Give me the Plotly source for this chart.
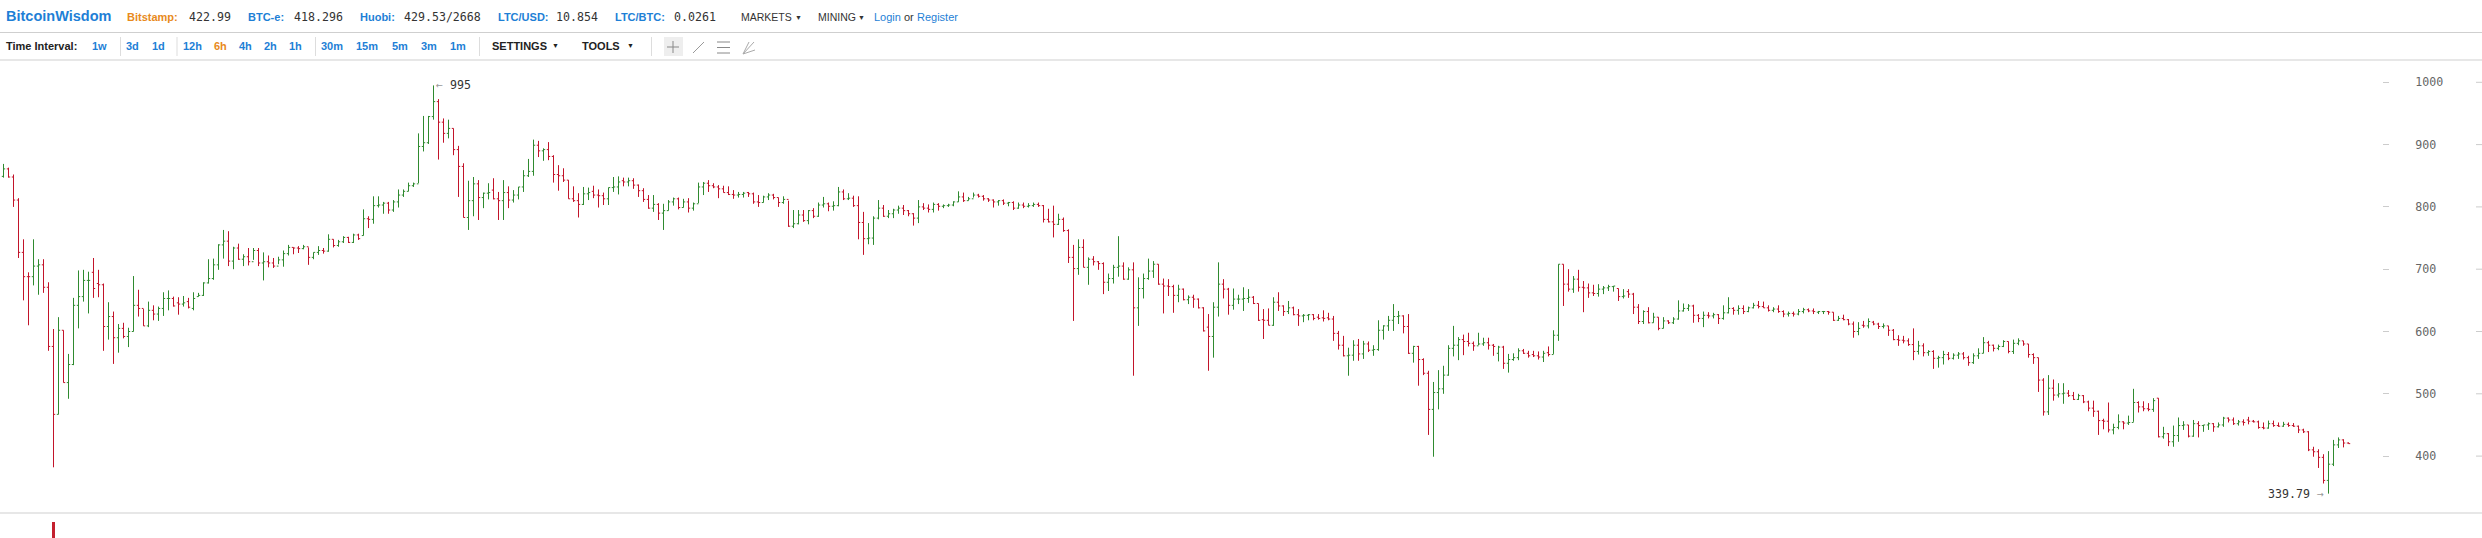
import plotly.graph_objects as go

opens = [
849,861,848,811,727,688,688,705,707,671,
576,467,602,518,547,642,656,682,695,677,
675,608,624,590,605,592,600,642,637,609,
634,628,637,653,653,646,644,648,637,656,
658,678,685,707,739,745,713,734,716,720,
712,730,710,712,710,705,715,725,735,734,
733,736,719,727,730,729,748,738,744,751,
743,755,754,781,780,802,803,806,795,808,
819,825,834,837,897,903,945,969,936,918,
926,892,865,783,810,837,815,822,827,813,
810,823,811,819,832,850,857,899,890,892,
881,852,850,843,813,810,804,821,825,819,
818,813,831,832,842,840,842,835,826,812,
798,804,790,794,808,813,799,808,798,805,
832,838,834,832,829,823,820,819,820,823,
821,808,807,816,819,815,807,812,769,773,
787,778,794,785,803,805,801,802,824,813,
814,802,775,749,750,782,798,785,789,795,
798,794,789,782,800,798,796,804,801,802,
803,808,816,810,813,819,817,813,811,808,
810,806,807,798,803,801,802,804,802,780,
776,772,780,762,719,701,735,703,716,712,
709,679,685,703,705,684,699,638,669,685,
697,708,676,673,672,658,668,651,655,652,
638,607,592,639,676,668,642,652,652,653,
655,645,619,618,610,647,641,632,638,627,
625,626,627,623,622,622,620,597,578,561,
562,578,564,580,570,571,602,609,618,624,
625,608,565,576,555,533,475,502,508,530,
573,578,587,584,581,577,580,582,578,565,
575,549,555,558,569,565,563,561,559,566,
563,594,708,676,668,684,671,670,662,661,
668,670,672,669,656,664,660,639,616,632,
614,623,605,617,614,620,633,637,641,626,
621,626,625,627,621,630,637,634,637,632,
638,642,640,638,634,636,632,628,629,628,
632,635,633,631,632,632,631,618,621,619,
612,600,610,609,615,612,608,609,602,587,
586,585,579,568,577,566,568,557,558,563,
557,562,564,558,550,561,565,582,578,573,
576,584,568,581,585,580,563,558,522,471,
509,498,500,501,497,491,497,487,477,472,
457,456,442,446,455,453,454,486,479,476,
475,493,431,436,423,433,449,450,432,452,
449,450,452,447,450,461,458,452,455,458,
456,455,446,445,452,449,448,451,449,448,
442,439,410,407,398,361,387,418,426,421,
]
closes = [
861,848,811,727,688,688,705,707,671,576,
467,602,518,547,642,656,682,682,669,675,
608,624,590,605,592,600,642,637,609,634,
628,637,653,653,641,644,646,639,653,658,
678,685,707,739,745,713,734,716,720,712,
730,710,712,710,705,715,725,735,734,733,
736,719,727,730,729,748,738,744,751,743,
755,749,781,780,802,803,806,795,808,819,
825,834,837,897,903,945,969,936,918,926,
892,865,783,810,837,815,822,823,813,810,
823,811,819,832,850,857,899,890,892,881,
852,850,843,813,810,804,821,823,819,818,
813,831,832,840,840,842,835,826,812,798,
804,790,794,808,813,799,808,798,805,832,
838,834,832,829,823,820,819,820,822,821,
808,807,816,819,815,807,812,769,773,787,
778,794,785,803,805,801,802,824,813,814,
802,775,749,750,782,798,785,789,795,798,
794,789,782,800,798,796,804,801,802,803,
808,816,810,813,819,817,813,811,808,810,
806,807,798,803,801,802,804,802,780,776,
772,780,762,719,701,735,703,716,712,709,
679,685,703,705,684,699,638,669,685,697,
708,676,673,672,658,668,651,655,652,638,
601,592,639,676,668,642,652,652,653,655,
645,618,618,610,647,641,632,638,627,625,
626,627,621,621,621,620,597,578,561,562,
578,564,580,570,571,602,609,618,624,625,
608,565,576,555,533,475,502,508,530,573,
578,587,584,581,577,580,582,578,576,575,
549,555,558,569,565,561,561,559,565,563,
594,708,676,668,684,671,670,662,661,668,
670,672,673,656,657,660,639,616,632,614,
623,605,617,614,620,633,637,641,626,621,
626,625,627,621,630,637,634,637,632,638,
642,640,638,634,636,632,628,629,628,632,
635,633,632,632,632,631,618,621,619,612,
600,605,609,616,612,608,609,602,587,586,
585,579,568,577,566,568,557,558,563,557,
562,564,558,550,561,565,582,578,573,576,
584,568,581,585,580,563,558,522,471,509,
498,500,501,497,491,497,487,477,472,457,
456,442,446,455,453,454,486,479,476,475,
489,431,436,423,433,449,450,432,452,449,
450,452,447,450,461,458,452,455,454,456,
455,446,445,452,449,448,451,449,448,442,
439,410,407,398,361,387,418,426,421,420,
]
highs = [
869,863,852,814,748,695,748,716,716,679,
604,623,602,564,654,698,699,696,718,699,
677,647,632,612,614,606,689,667,636,648,
642,640,663,666,656,655,657,654,663,662,
679,716,717,740,763,761,736,741,724,734,
734,734,727,722,718,720,730,739,735,737,
739,735,727,737,734,756,748,747,753,752,
757,757,796,785,817,817,808,808,811,828,
828,839,839,918,946,946,995,973,942,940,
926,898,870,842,848,843,823,838,846,824,
843,833,827,832,859,877,908,906,894,904,
883,867,862,843,833,822,832,831,834,828,
823,831,848,849,847,847,846,836,830,819,
819,806,805,811,815,815,813,814,807,839,
840,843,838,835,834,833,827,824,824,824,
823,819,818,822,821,815,817,810,795,795,
795,795,798,807,816,807,809,832,828,822,
818,817,792,774,785,811,803,795,797,802,
803,795,790,811,806,804,807,806,804,805,
809,825,823,816,823,821,819,814,812,811,
812,808,809,807,807,806,807,807,803,797,
802,789,783,764,739,748,748,719,721,713,
711,693,707,753,711,703,711,687,693,717,
713,708,685,684,675,675,669,658,659,653,
639,628,647,711,684,670,669,659,671,668,
657,645,636,637,655,663,642,649,640,636,
628,628,628,628,634,630,625,601,593,574,
586,588,585,584,578,618,610,625,644,633,
626,628,577,577,557,537,519,538,545,578,
609,591,595,598,584,598,590,590,580,577,
577,564,565,573,572,569,569,568,569,576,
602,708,708,700,689,699,681,677,675,676,
673,675,673,669,668,668,662,644,634,639,
630,623,623,618,623,650,645,644,643,628,
632,631,630,628,642,655,639,642,642,640,
646,649,648,642,639,642,634,632,632,636,
638,637,637,633,633,633,631,625,627,620,
616,615,617,621,617,614,613,609,604,594,
593,589,605,585,581,570,570,561,569,567,
565,567,567,561,565,573,591,585,579,579,
586,584,587,589,585,580,565,558,525,530,
523,517,517,506,503,500,498,489,489,473,
460,486,452,467,456,465,508,488,488,485,
493,493,447,437,449,462,456,450,458,456,
450,454,453,454,463,462,462,458,459,463,
458,457,454,457,457,454,455,454,453,449,
444,440,415,411,403,408,426,430,427,422,
]
lows = [
847,847,800,718,650,610,674,659,662,569,
382,467,518,492,546,605,648,629,654,655,
569,587,548,566,589,575,600,624,609,607,
618,617,625,634,640,627,640,637,634,656,
657,677,683,699,717,705,700,715,705,706,
715,705,682,703,702,708,704,722,724,726,
732,707,716,723,725,728,735,736,742,742,
742,747,754,766,773,799,789,789,792,799,
816,825,832,838,889,901,940,876,903,910,
883,816,783,763,785,779,798,812,812,779,
779,798,807,812,824,848,850,880,874,875,
839,826,840,813,808,783,803,811,814,799,
803,803,824,820,833,833,829,816,808,797,
792,779,763,794,802,796,799,791,794,806,
819,824,830,814,823,819,813,815,815,816,
805,800,807,811,812,800,805,768,766,772,
776,772,782,784,799,793,794,801,811,811,
800,748,723,740,739,780,784,782,782,789,
787,785,770,774,795,791,791,794,798,800,
801,808,808,810,815,815,810,808,799,802,
803,801,795,797,798,799,800,800,775,775,
751,771,760,710,617,691,703,675,706,699,
660,665,677,688,683,683,529,609,653,683,
686,675,629,657,630,647,650,644,638,637,
600,537,558,624,653,627,635,644,633,646,
644,617,588,610,609,633,625,628,626,609,
615,618,618,619,616,618,585,571,560,529,
553,553,556,567,561,569,587,601,601,612,
597,564,550,513,530,434,399,475,500,529,
560,554,562,576,569,578,577,571,561,552,
540,534,553,554,564,558,559,555,551,560,
564,585,641,664,662,664,631,654,657,656,
660,665,664,649,653,654,628,612,612,613,
614,602,605,612,612,619,632,633,614,615,
607,621,621,612,619,629,627,627,628,631,
637,637,638,632,631,630,623,624,624,626,
629,631,628,628,628,627,617,617,618,610,
590,594,606,605,610,604,605,593,586,577,
581,577,554,563,560,561,540,542,547,554,
555,556,555,545,548,556,565,567,568,570,
575,565,564,578,577,558,548,503,465,466,
489,494,484,495,490,490,485,472,463,434,
443,438,435,443,443,450,455,470,472,472,
471,430,428,416,415,423,442,430,431,430,
439,442,439,446,447,454,450,449,449,451,
454,444,443,444,447,447,447,447,447,437,
437,408,399,381,356,339.79,384,413,414,420,
]
bars = list(range(len(opens)))
volume_bars = [10]
volume_values = [1]
tick_values = [400, 500, 600, 700, 800, 900, 1000]
tick_labels = ["400", "500", "600", "700", "800", "900", "1000"]

W, H = 2482, 538
GREEN, RED = "#2f8a2f", "#c2142a"
BLUE, ORANGE, DARK = "#1e7fd6", "#e88a1c", "#222222"
SANS, MONO = "Liberation Sans", "DejaVu Sans Mono"
PAD = 2.2

fig = go.Figure()
fig.add_trace(go.Ohlc(x=bars, open=opens, high=highs, low=lows, close=closes,
                      increasing_line_color=GREEN, decreasing_line_color=RED,
                      line_width=1, tickwidth=0.34, showlegend=False, hoverinfo="skip"))
fig.add_trace(go.Bar(x=volume_bars, y=volume_values, yaxis="y2", width=0.6,
                     marker_color="#c4202e", marker_line_width=0, showlegend=False, hoverinfo="skip"))

anns = []
def text(px, py, s, color=DARK, size=11, bold=False, family=SANS, anchor="left"):
    if bold:
        s = "<b>" + s + "</b>"
    anns.append(dict(text=s, xref="paper", yref="paper", x=(px - PAD) / W, y=1 - py / H,
                     xanchor=anchor, yanchor="middle", showarrow=False,
                     font=dict(color=color, size=size, family=family)))

text(6, 16.5, "BitcoinWisdom", BLUE, 14.5, True)
row1 = [(127.5, "Bitstamp:", ORANGE, 189.5, "422.99"), (248, "BTC-e:", BLUE, 294, "418.296"),
        (360.5, "Huobi:", BLUE, 404.5, "429.53/2668"), (498, "LTC/USD:", BLUE, 556, "10.854"),
        (615, "LTC/BTC:", BLUE, 674.5, "0.0261")]
for lx, lab, col, vx, val in row1:
    text(lx, 17, lab, col, 11, True)
    text(vx, 17, val, "#333333", 11.6, False, MONO)
text(740.7, 17, "MARKETS", "#333333", 10.5)
text(795, 17, "▼", "#333333", 7)
text(818.3, 17, "MINING", "#333333", 10.5)
text(858, 17, "▼", "#333333", 7)
text(874, 17, "Login", BLUE, 11)
text(904, 17, "or", "#333333", 11)
text(917, 17, "Register", BLUE, 11)

text(6, 46, "Time Interval:", DARK, 11, True)
for px, lab, col in [(92.5, "1w", BLUE), (126.5, "3d", BLUE), (152, "1d", BLUE), (183.5, "12h", BLUE),
                     (214, "6h", ORANGE), (239, "4h", BLUE), (264.5, "2h", BLUE), (289.5, "1h", BLUE),
                     (321, "30m", BLUE), (356, "15m", BLUE), (392, "5m", BLUE), (421, "3m", BLUE), (450, "1m", BLUE)]:
    text(px, 46, lab, col, 11, True)
text(492, 46, "SETTINGS", DARK, 11, True)
text(552, 46, "▼", DARK, 7)
text(582, 46, "TOOLS", DARK, 11, True)
text(627, 46, "▼", DARK, 7)

anns.append(dict(text='<span style="color:#999999">←</span> 995', x=86, y=995, xref="x", yref="y",
                 xanchor="left", yanchor="middle", xshift=0, showarrow=False,
                 font=dict(color="#333333", size=11.6, family=MONO)))
anns.append(dict(text='339.79 <span style="color:#999999">→</span>', x=465, y=339.79, xref="x", yref="y",
                 xanchor="right", yanchor="middle", xshift=-3, showarrow=False,
                 font=dict(color="#333333", size=11.6, family=MONO)))

shapes = []
def line(x0, y0, x1, y1, color="#cccccc", width=1):
    shapes.append(dict(type="line", xref="paper", yref="paper", x0=x0 / W, x1=x1 / W,
                       y0=1 - y0 / H, y1=1 - y1 / H, line=dict(color=color, width=width)))

for y in (32.5, 60, 513):
    line(0, y, W, y, "#cfcfcf", 1.2)
for x in (120.5, 177, 315.5, 479.5, 651.5):
    line(x, 37, x, 56, "#dddddd")
shapes.append(dict(type="rect", xref="paper", yref="paper", x0=664 / W, x1=683 / W,
                   y0=1 - 56 / H, y1=1 - 37 / H, fillcolor="#eeeeee", line_width=0, layer="below"))
line(667, 47, 679, 47, "#888888"); line(673, 41, 673, 53, "#888888")
line(693, 53, 704, 42, "#999999")
for y in (42, 47.5, 53):
    line(717, y, 730, y, "#888888")
line(743, 54, 754, 42, "#aaaaaa"); line(743, 54, 749, 42, "#aaaaaa"); line(743, 54, 755, 50, "#aaaaaa")

for v in tick_values:
    shapes.append(dict(type="line", xref="paper", yref="y", x0=2476 / W, x1=2482 / W, y0=v, y1=v,
                       line=dict(color="#cccccc", width=1)))

TOP_V = 1000 + 22.3 / 0.623
BOT_V = TOP_V - 453 / 0.623

fig.update_layout(
    width=W, height=H, autosize=False, margin=dict(l=0, r=0, t=0, b=0),
    paper_bgcolor="white", plot_bgcolor="white", showlegend=False, bargap=0,
    annotations=anns, shapes=shapes,
    xaxis=dict(domain=[0, 1], range=[-0.7, (W - 3.5) / 5], visible=False, rangeslider=dict(visible=False)),
    yaxis=dict(domain=[1 - 513 / H, 1 - 60 / H], range=[BOT_V, TOP_V], side="right", anchor="free",
               position=2382 / W, tickvals=tick_values, ticktext=tick_labels, ticks="outside", ticklen=6,
               tickcolor="#cccccc", tickwidth=1, showgrid=False, zeroline=False, showline=False,
               ticklabelstandoff=24, tickfont=dict(family=MONO, size=11.6, color="#666666")),
    yaxis2=dict(domain=[0, 16 / H], range=[0, 1], visible=False, anchor="x"),
)
fig.write_html("out.html", config=dict(displayModeBar=False), post_script="document.body.style.margin='0';")
